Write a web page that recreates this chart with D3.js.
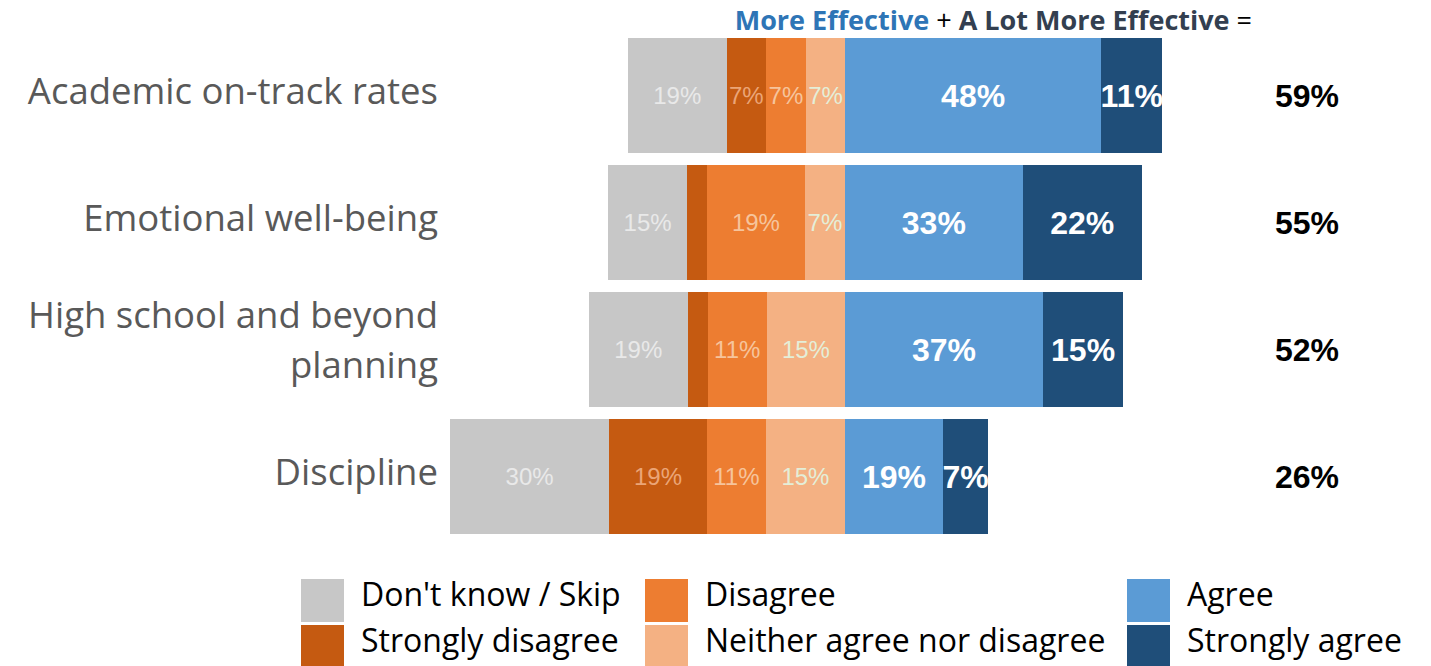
<!DOCTYPE html>
<html>
<head>
<meta charset="utf-8">
<script src="https://cdn.jsdelivr.net/npm/d3@7"></script>
<style>
  html, body { margin: 0; padding: 0; background: #fff; }
  svg { display: block; }
</style>
</head>
<body>
<div id="chart"></div>
<script>
// categories (each entry is the wrapped lines of the label)
const categories = [
  ["Academic on-track rates"],
  ["Emotional well-being"],
  ["High school and beyond", "planning"],
  ["Discipline"]
];

// bar widths, in percent
const dontKnow         = [18.5, 14.8, 18.5, 29.7];
const stronglyDisagree = [7.3, 3.7, 3.7, 18.3];
const disagree         = [7.5, 18.3, 11.1, 11.0];
const neither          = [7.3, 7.5, 14.6, 14.8];
const agree            = [47.9, 33.2, 37.0, 18.3];
const stronglyAgree    = [11.4, 22.3, 15.0, 8.5];

// percentages as printed on the bars (null = no label)
const dontKnowPct         = [19, 15, 19, 30];
const stronglyDisagreePct = [7, null, null, 19];
const disagreePct         = [7, 19, 11, 11];
const neitherPct          = [7, 7, 15, 15];
const agreePct            = [48, 33, 37, 19];
const stronglyAgreePct    = [11, 22, 15, 7];

const seriesNames = ["Don't know / Skip", "Strongly disagree", "Disagree",
                     "Neither agree nor disagree", "Agree", "Strongly agree"];

const W = 1431, H = 666;
const center = 845;
const textFont = '"Open Sans", "Noto Sans", sans-serif';
const numFont = '"Liberation Sans", Arial, sans-serif';

const series = [
  {key: 'neither', name: seriesNames[3], vals: neither, pct: neitherPct, side: -1, color: '#f4b183', text: '#e4eed8'},
  {key: 'disagree', name: seriesNames[2], vals: disagree, pct: disagreePct, side: -1, color: '#ed7d31', text: '#f6c49c'},
  {key: 'sdis', name: seriesNames[1], vals: stronglyDisagree, pct: stronglyDisagreePct, side: -1, color: '#c55a11', text: '#eba577'},
  {key: 'dk', name: seriesNames[0], vals: dontKnow, pct: dontKnowPct, side: -1, color: '#c7c7c7', text: '#e9e9e9'},
  {key: 'agree', name: seriesNames[4], vals: agree, pct: agreePct, side: 1, color: '#5b9bd5', text: '#ffffff'},
  {key: 'sagree', name: seriesNames[5], vals: stronglyAgree, pct: stronglyAgreePct, side: 1, color: '#1f4e79', text: '#ffffff'}
];
const byKey = {};
series.forEach(s => byKey[s.key] = s);

const table = categories.map((c, i) => {
  const row = {cat: c.join(' '), i: i};
  series.forEach(s => row[s.key] = s.side * s.vals[i]);
  return row;
});

const stacked = d3.stack()
  .keys(series.map(s => s.key))
  .offset(d3.stackOffsetDiverging)(table);

const x = d3.scaleLinear().domain([-100, 100]).range([center - 535, center + 535]);
const y = d3.scaleBand()
  .domain(table.map(d => d.cat))
  .range([38, 534])
  .paddingInner(12 / 127)
  .paddingOuter(0);

const svg = d3.select('#chart').append('svg')
  .attr('width', W)
  .attr('height', H);

// bars
const layers = svg.append('g').selectAll('g')
  .data(stacked)
  .join('g')
  .attr('fill', d => byKey[d.key].color);

layers.selectAll('rect')
  .data(d => d)
  .join('rect')
  .attr('x', d => x(Math.min(d[0], d[1])))
  .attr('y', d => y(d.data.cat))
  .attr('width', d => Math.abs(x(d[1]) - x(d[0])))
  .attr('height', y.bandwidth())
  .attr('shape-rendering', 'crispEdges');

// value labels inside the segments
layers.each(function (layer) {
  const s = byKey[layer.key];
  d3.select(this).selectAll('text')
    .data(layer.filter(d => s.pct[d.data.i] !== null))
    .join('text')
    .attr('x', d => x((d[0] + d[1]) / 2))
    .attr('y', d => y(d.data.cat) + y.bandwidth() / 2)
    .attr('dy', '0.36em')
    .attr('text-anchor', 'middle')
    .attr('font-family', numFont)
    .attr('font-size', s.side > 0 ? 32 : 24)
    .attr('font-weight', s.side > 0 ? 'bold' : 'normal')
    .attr('fill', s.text)
    .text(d => s.pct[d.data.i] + '%');
});

// category labels, one text per line
svg.append('g').selectAll('g')
  .data(table)
  .join('g')
  .each(function (d) {
    const lines = categories[d.i];
    const mid = y(d.cat) + y.bandwidth() / 2;
    const off = lines.length > 1 ? 3 : 8;
    d3.select(this).selectAll('text')
      .data(lines)
      .join('text')
      .attr('x', 438)
      .attr('y', (l, j) => mid + off + (j - (lines.length - 1) / 2) * 50)
      .attr('text-anchor', 'end')
      .attr('font-family', textFont)
      .attr('font-size', 36.5)
      .attr('fill', '#595959')
      .text(l => l);
  });

// net effective totals on the right
svg.append('g').selectAll('text')
  .data(table)
  .join('text')
  .attr('x', 1339)
  .attr('y', d => y(d.cat) + y.bandwidth() / 2)
  .attr('dy', '0.36em')
  .attr('text-anchor', 'end')
  .attr('font-family', numFont)
  .attr('font-size', 32)
  .attr('font-weight', 'bold')
  .attr('fill', '#000')
  .text(d => (agreePct[d.i] + stronglyAgreePct[d.i]) + '%');

// header
const head = svg.append('text')
  .attr('x', 1252)
  .attr('y', 30)
  .attr('text-anchor', 'end')
  .attr('font-family', textFont)
  .attr('font-size', 27);
head.append('tspan').attr('font-weight', 'bold').attr('fill', '#2e75b6').text('More Effective');
head.append('tspan').attr('fill', '#000').text(' + ');
head.append('tspan').attr('font-weight', 'bold').attr('fill', '#333f50').text('A Lot More Effective');
head.append('tspan').attr('fill', '#000').text(' =');

// legend, column-major
const legendOrder = ['dk', 'sdis', 'disagree', 'neither', 'agree', 'sagree'];
const colX = [301, 645, 1127];
const rowY = [579, 625];
const legend = svg.append('g').selectAll('g')
  .data(legendOrder.map(k => byKey[k]))
  .join('g')
  .attr('transform', (d, i) => `translate(${colX[Math.floor(i / 2)]},${rowY[i % 2]})`);

legend.append('rect')
  .attr('width', 43)
  .attr('height', 43)
  .attr('fill', d => d.color);

legend.append('text')
  .attr('x', 60)
  .attr('y', 27)
  .attr('font-family', textFont)
  .attr('font-size', 32)
  .attr('fill', '#000')
  .text(d => d.name);
</script>
</body>
</html>
